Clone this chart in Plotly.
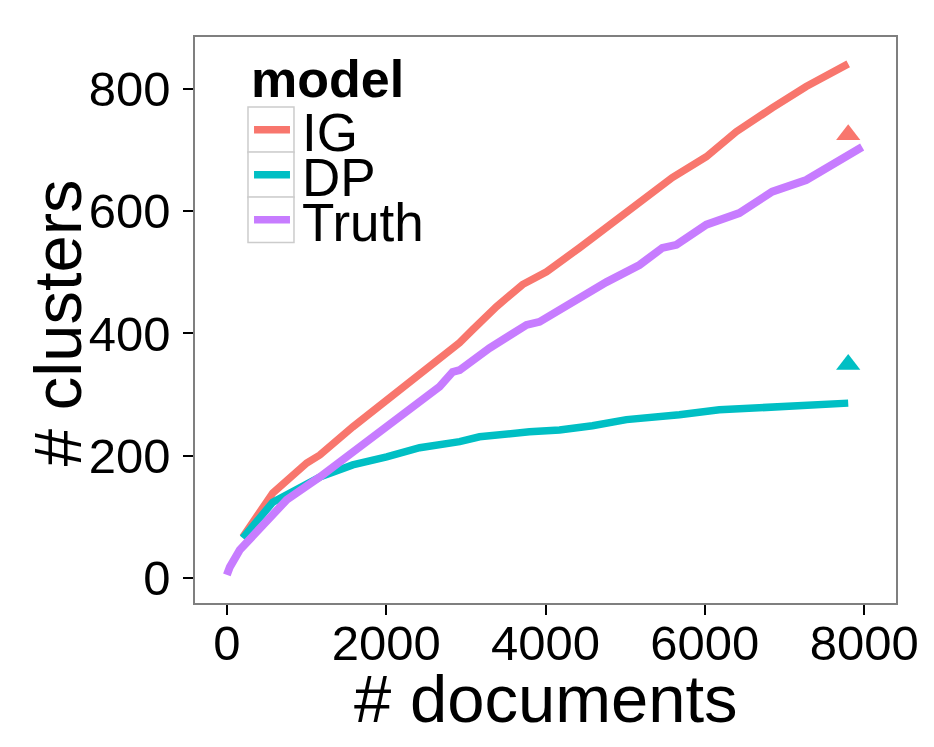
import plotly.graph_objects as go

# ---- data ----
ig_x = [200, 577, 1003, 1166, 1580, 2006, 2420, 2922, 3085, 3386, 3712, 4013, 4426, 4765, 5216, 5592, 6019, 6395, 6846, 7273, 7800]
ig_y = [67, 139, 188, 201, 247, 291, 336, 385, 406, 444, 480, 501, 540, 573, 619, 655, 689, 730, 769, 804, 841]

dp_x = [200, 577, 1166, 1580, 2006, 2420, 2922, 3172, 3799, 4176, 4589, 5016, 5680, 6182, 7800]
dp_y = [65, 124, 165, 185, 198, 213, 223, 231, 239, 242, 249, 259, 267, 275, 286]

truth_x = [0, 38, 163, 414, 752, 1166, 1580, 2006, 2420, 2671, 2834, 2922, 3298, 3762, 3925, 4339, 4765, 5179, 5467, 5643, 6019, 6433, 6846, 7273, 7687, 7975]
truth_y = [5, 18, 46, 83, 128, 165, 206, 250, 288, 313, 337, 340, 376, 414, 419, 452, 484, 512, 540, 545, 578, 597, 632, 651, 681, 705]

final_x = [7800, 7800]
final_y = [725, 349]
final_model = ["IG", "DP"]

models = ["IG", "DP", "Truth"]
colors = {"IG": "#F8766D", "DP": "#00BFC4", "Truth": "#C77CFF"}

x_ticks = [0, 2000, 4000, 6000, 8000]
y_ticks = [0, 200, 400, 600, 800]

FONT = "Liberation Sans, Arial, Helvetica, sans-serif"

fig = go.Figure()
fig.add_trace(go.Scatter(x=ig_x, y=ig_y, mode="lines", name="IG",
                         line=dict(color=colors["IG"], width=7.5)))
fig.add_trace(go.Scatter(x=dp_x, y=dp_y, mode="lines", name="DP",
                         line=dict(color=colors["DP"], width=7.5)))
fig.add_trace(go.Scatter(x=truth_x, y=truth_y, mode="lines", name="Truth",
                         line=dict(color=colors["Truth"], width=8)))
fig.add_trace(go.Scatter(x=final_x, y=final_y, mode="markers",
                         marker=dict(symbol="triangle-up", size=21,
                                     color=[colors[m] for m in final_model])))

# ---- manual legend (ggplot style, keys with grey boxes) ----
shapes = []
annotations = []
key_x0, key_x1 = 0.0756, 0.1412
row_tops = [0.8763, 0.7968, 0.7173]
row_h = 0.0805
for i, m in enumerate(models):
    top = row_tops[i]
    bot = top - row_h
    shapes.append(dict(type="rect", xref="paper", yref="paper",
                       x0=key_x0, x1=key_x1, y0=bot, y1=top,
                       line=dict(color="#cccccc", width=1.5), fillcolor="white", layer="above"))
    mid = (top + bot) / 2
    shapes.append(dict(type="line", xref="paper", yref="paper",
                       x0=0.0842, x1=0.1355, y0=mid, y1=mid,
                       line=dict(color=colors[m], width=7.5), layer="above"))
    annotations.append(dict(text=m, xref="paper", yref="paper", x=0.1500, y=mid - 0.004,
                            xanchor="left", yanchor="middle", showarrow=False,
                            font=dict(size=53, color="black")))
annotations.append(dict(text="<b>model</b>", xref="paper", yref="paper", x=0.0770, y=0.926,
                        xanchor="left", yanchor="middle", showarrow=False,
                        font=dict(size=52, color="black")))
# axis titles
annotations.append(dict(text="# documents", xref="paper", yref="paper", x=0.5, y=-0.168,
                        xanchor="center", yanchor="middle", showarrow=False,
                        font=dict(size=67, color="black")))
annotations.append(dict(text="# clusters", xref="paper", yref="paper", x=-0.195, y=0.495,
                        xanchor="center", yanchor="middle", textangle=-90, showarrow=False,
                        font=dict(size=67, color="black")))

fig.update_layout(
    width=934, height=747,
    margin=dict(l=187, r=46, t=29, b=152, autoexpand=False),
    paper_bgcolor="white", plot_bgcolor="white",
    font=dict(family=FONT, color="black", size=49),
    showlegend=False,
    shapes=shapes, annotations=annotations,
)
fig.update_xaxes(
    range=[-400, 8400], tickvals=x_ticks, ticktext=[str(v) for v in x_ticks],
    showgrid=False, zeroline=False, showline=True, linecolor="#7f7f7f", linewidth=1.5, mirror=True,
    ticks="outside", ticklen=10, tickwidth=2, tickcolor="black",
    tickfont=dict(size=49), automargin=False, ticklabelstandoff=-14,
)
fig.update_yaxes(
    range=[-41, 885], tickvals=y_ticks, ticktext=[str(v) for v in y_ticks],
    showgrid=False, zeroline=False, showline=True, linecolor="#7f7f7f", linewidth=1.5, mirror=True,
    ticks="outside", ticklen=10, tickwidth=2, tickcolor="black",
    tickfont=dict(size=49), automargin=False, ticklabelstandoff=3,
)

fig.write_html("out.html")
